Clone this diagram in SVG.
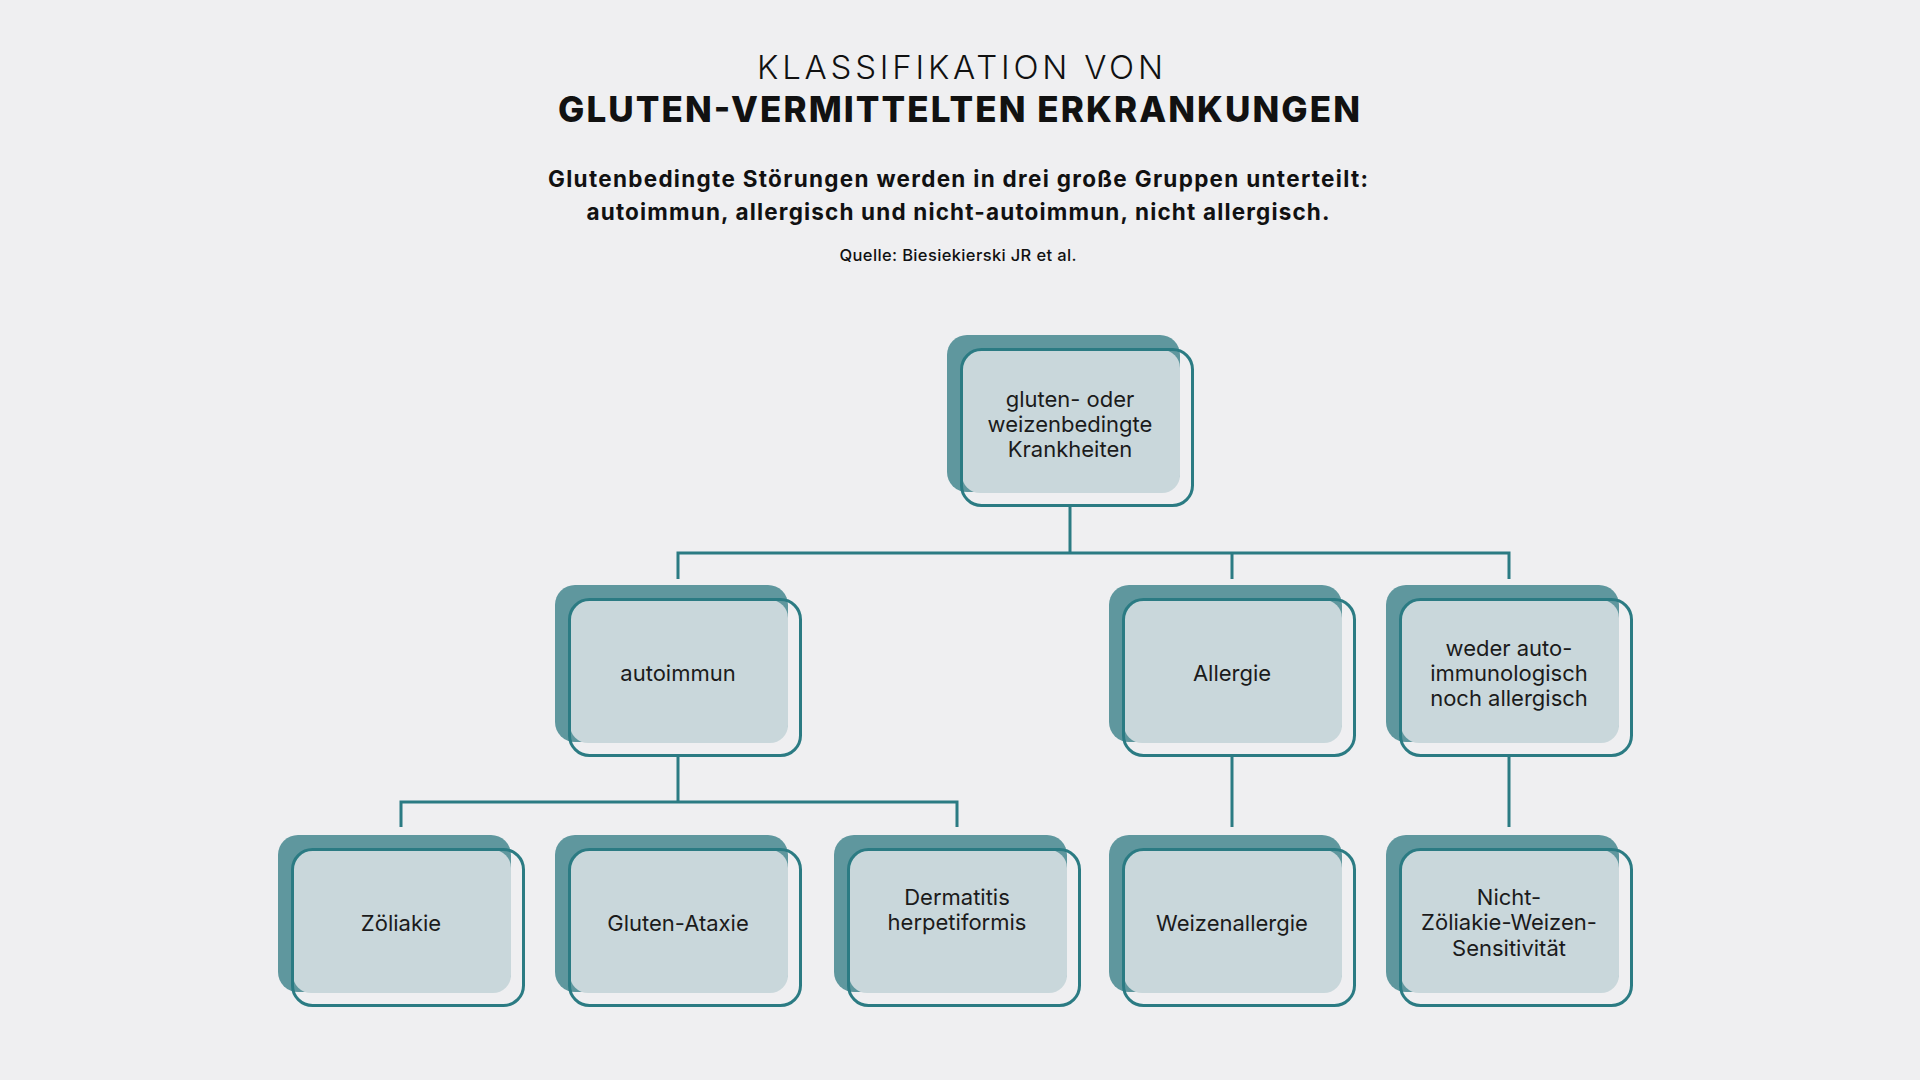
<svg xmlns="http://www.w3.org/2000/svg" width="1920" height="1080" viewBox="0 0 1920 1080">
  <defs>
    <style>
      .bg { fill: #efeff1; }
      .back { fill: #5f979e; }
      .face { fill: #c9d7db; }
      .edge { fill: none; stroke: #2b7b83; stroke-width: 3; }
      .conn { fill: none; stroke: #2b7b83; stroke-width: 3; stroke-linecap: butt; stroke-linejoin: miter; }
      .lbl { font-family: "Inter", "Liberation Sans", sans-serif; font-size: 22px; fill: #1b1b1b; text-anchor: middle; }
      .t1 { font-family: "Inter", "Liberation Sans", sans-serif; font-weight: 300; font-size: 33px; fill: #111; text-anchor: middle; }
      .t2 { font-family: "Inter", "Liberation Sans", sans-serif; font-weight: 800; font-size: 35px; fill: #111; text-anchor: middle; }
      .sub { font-family: "Inter", "Liberation Sans", sans-serif; font-weight: 700; font-size: 22.5px; fill: #111; text-anchor: middle; }
      .src { font-family: "Inter", "Liberation Sans", sans-serif; font-weight: 500; font-size: 16.5px; fill: #111; text-anchor: middle; }
    </style>
    <g id="card">
      <rect class="back" x="0" y="0" width="233" height="157" rx="20"/>
      <rect class="face" x="15" y="15" width="218" height="143" rx="18"/>
      <rect class="edge" x="14.5" y="14.5" width="231" height="156" rx="20"/>
    </g>
  </defs>

  <rect class="bg" x="0" y="0" width="1920" height="1080"/>

  <g id="header">
    <text class="t1" x="960" y="79" textLength="406" lengthAdjust="spacing">KLASSIFIKATION VON</text>
    <text class="t2" x="959" y="122" textLength="802" lengthAdjust="spacing">GLUTEN-VERMITTELTEN ERKRANKUNGEN</text>
    <text class="sub" x="958" y="187" textLength="820" lengthAdjust="spacing">Glutenbedingte Störungen werden in drei große Gruppen unterteilt:</text>
    <text class="sub" x="958" y="220" textLength="743" lengthAdjust="spacing">autoimmun, allergisch und nicht-autoimmun, nicht allergisch.</text>
    <text class="src" x="958" y="261" textLength="237" lengthAdjust="spacing">Quelle: Biesiekierski JR et al.</text>
  </g>

  <g id="connectors">
    <path class="conn" d="M1070 506 V553"/>
    <path class="conn" d="M678 579 V553 H1509 V579"/>
    <path class="conn" d="M1232 553 V579"/>
    <path class="conn" d="M678 756 V802"/>
    <path class="conn" d="M401 827 V802 H957 V827"/>
    <path class="conn" d="M1232 756 V827"/>
    <path class="conn" d="M1509 756 V827"/>
  </g>

  <g id="node-root">
    <use href="#card" x="947" y="335"/>
    <text class="lbl" x="1070" y="407">gluten- oder</text>
    <text class="lbl" x="1070" y="432">weizenbedingte</text>
    <text class="lbl" x="1070" y="457">Krankheiten</text>
  </g>

  <g id="node-autoimmun">
    <use href="#card" x="555" y="585"/>
    <text class="lbl" x="678" y="681">autoimmun</text>
  </g>

  <g id="node-allergie">
    <use href="#card" x="1109" y="585"/>
    <text class="lbl" x="1232" y="681">Allergie</text>
  </g>

  <g id="node-weder">
    <use href="#card" x="1386" y="585"/>
    <text class="lbl" x="1509" y="656">weder auto-</text>
    <text class="lbl" x="1509" y="681">immunologisch</text>
    <text class="lbl" x="1509" y="706">noch allergisch</text>
  </g>

  <g id="node-zoeliakie">
    <use href="#card" x="278" y="835"/>
    <text class="lbl" x="401" y="931">Zöliakie</text>
  </g>

  <g id="node-ataxie">
    <use href="#card" x="555" y="835"/>
    <text class="lbl" x="678" y="931">Gluten-Ataxie</text>
  </g>

  <g id="node-dermatitis">
    <use href="#card" x="834" y="835"/>
    <text class="lbl" x="957" y="905">Dermatitis</text>
    <text class="lbl" x="957" y="930">herpetiformis</text>
  </g>

  <g id="node-weizenallergie">
    <use href="#card" x="1109" y="835"/>
    <text class="lbl" x="1232" y="931">Weizenallergie</text>
  </g>

  <g id="node-ncws">
    <use href="#card" x="1386" y="835"/>
    <text class="lbl" x="1509" y="905">Nicht-</text>
    <text class="lbl" x="1509" y="930">Zöliakie-Weizen-</text>
    <text class="lbl" x="1509" y="956">Sensitivität</text>
  </g>
</svg>
